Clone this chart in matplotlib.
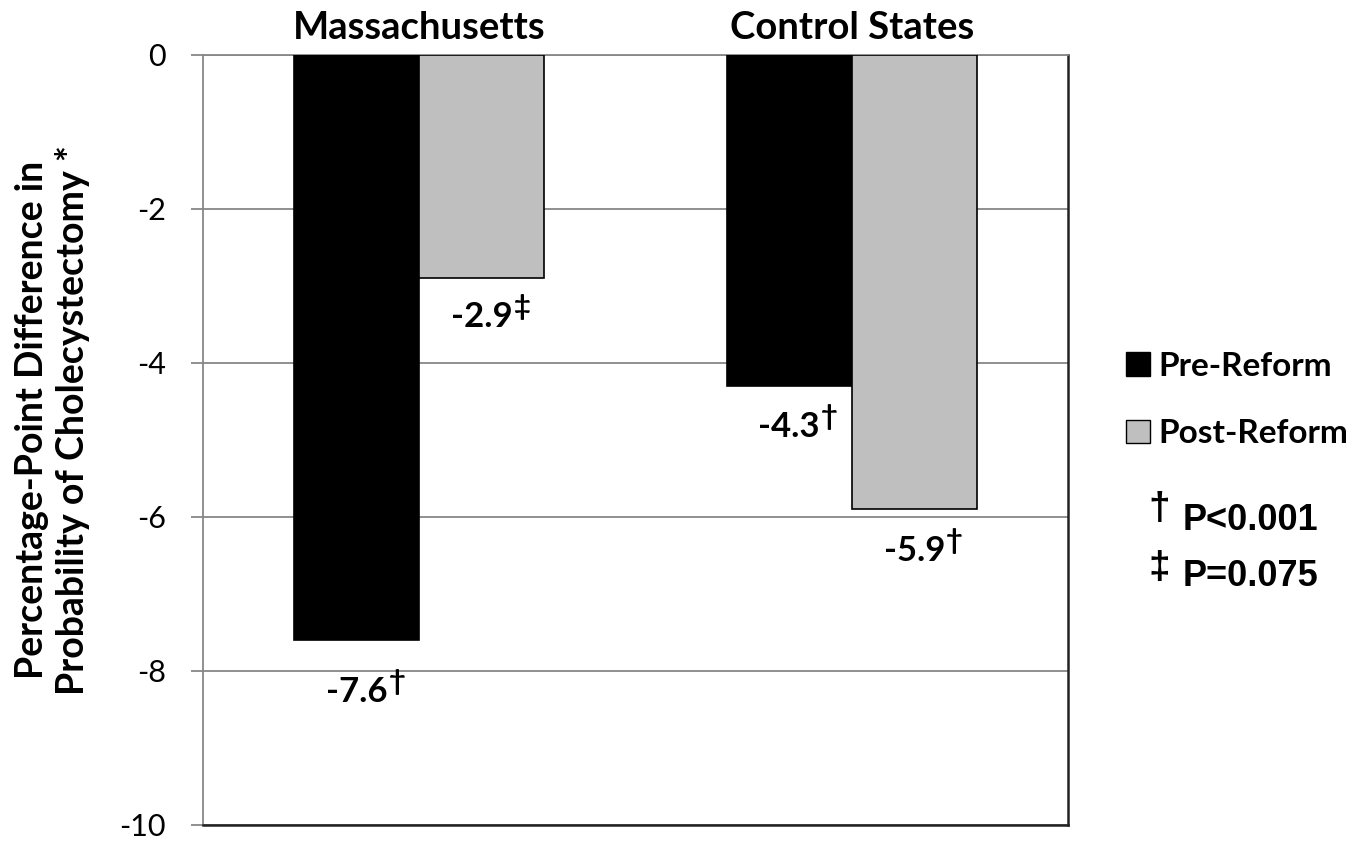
import matplotlib
matplotlib.use("Agg")
import matplotlib.pyplot as plt
import numpy as np
from matplotlib.patches import Patch

# Data
groups = ["Massachusetts", "Control States"]
series = ["Pre-Reform", "Post-Reform"]
pre_reform = [-7.6, -4.3]
post_reform = [-2.9, -5.9]
pre_marks = ["\u2020", "\u2020"]
post_marks = ["\u2021", "\u2020"]
y_ticks = [0, -2, -4, -6, -8, -10]
footnotes = [("\u2020", "P<0.001"), ("\u2021", "P=0.075")]

FONT = "Lato"
colors = ["#000000", "#bfbfbf"]
grid_gray = "#878787"

fig = plt.figure(figsize=(13.69, 8.42), dpi=100)
ax = fig.add_axes([0.1483, 0.0202, 0.6318, 0.9145])

x = np.arange(len(groups))
w = 0.289
bars_pre = ax.bar(x - w / 2, pre_reform, width=w, color=colors[0],
                  edgecolor="black", linewidth=1.2, zorder=3)
bars_post = ax.bar(x + w / 2, post_reform, width=w, color=colors[1],
                   edgecolor="black", linewidth=1.2, zorder=3)

ax.set_xlim(-0.5, 1.5)
ax.set_ylim(-10, 0)
ax.set_yticks(y_ticks)
ax.set_yticklabels([str(t) for t in y_ticks], fontfamily=FONT, fontsize=22)
ax.set_xticks([])
ax.yaxis.grid(True, color=grid_gray, linewidth=1.3, zorder=0)
ax.tick_params(axis="y", length=8.6, width=1.3, color=grid_gray, pad=18)

for side in ["left", "top"]:
    ax.spines[side].set_color(grid_gray)
    ax.spines[side].set_linewidth(1.3)
for side in ["right", "bottom"]:
    ax.spines[side].set_color("#222222")
    ax.spines[side].set_linewidth(1.8)

# group titles above the plot
for xi, g in zip(x, groups):
    ax.text(xi, 1.035, g, transform=ax.get_xaxis_transform(), ha="center",
            va="center", fontfamily=FONT, fontweight="bold", fontsize=27.5)

# value labels under each bar with significance marks
label_offsets = [[-37.5, -28], [-29.5, -30]]
for i in range(len(groups)):
    for j, (bars, vals, marks) in enumerate([(bars_pre, pre_reform, pre_marks),
                                            (bars_post, post_reform, post_marks)]):
        b = bars[i]
        cx = b.get_x() + b.get_width() / 2
        t = ax.annotate(f"{vals[i]:.1f}", xy=(cx, vals[i]), xytext=(0, label_offsets[i][j]),
                        textcoords="offset points", ha="center", va="center",
                        fontfamily=FONT, fontweight="bold", fontsize=25, zorder=4)
        ax.annotate(marks[i], xy=(1, 1), xycoords=t, xytext=(1, 5),
                    textcoords="offset points", ha="left", va="top",
                    fontfamily=FONT, fontweight="bold", fontsize=21, zorder=4)

ax.set_ylabel("Percentage-Point Difference in\nProbability of Cholecystectomy *",
              fontfamily=FONT, fontweight="bold", fontsize=27, linespacing=1.2)
ax.yaxis.set_label_coords(-0.131, 0.526)

# legend
handles = [Patch(facecolor=colors[k], edgecolor="black", label=series[k]) for k in range(2)]
leg = fig.legend(handles=handles, loc="center left", bbox_to_anchor=(0.813, 0.525),
                 frameon=False, prop={"family": FONT, "weight": "bold", "size": 24},
                 handlelength=0.7, handleheight=0.7, handletextpad=0.27, labelspacing=1.15,
                 borderaxespad=0)

# footnotes
sym_y = [0.396, 0.326]
txt_y = [0.382, 0.315]
for k, (sym, txt) in enumerate(footnotes):
    fig.text(0.847, sym_y[k], sym, fontfamily="Liberation Sans", fontweight="bold",
             fontsize=28, ha="center", va="center")
    fig.text(0.864, txt_y[k], txt, fontfamily="Liberation Sans", fontweight="bold",
             fontsize=26, ha="left", va="center")

fig.savefig("out.png", dpi=100)
